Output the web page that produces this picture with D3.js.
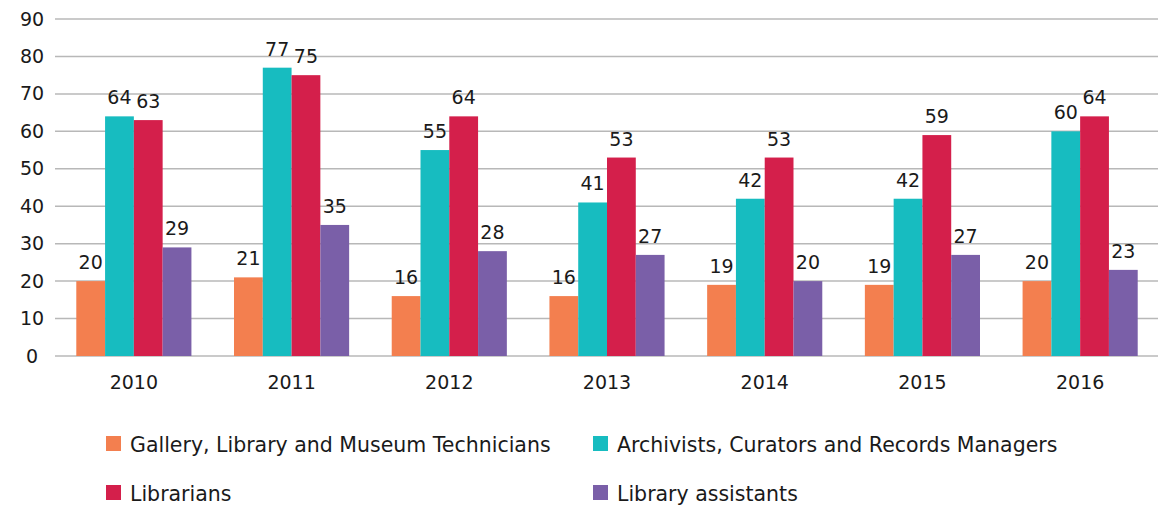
<!DOCTYPE html>
<html>
<head>
<meta charset="utf-8">
<script src="https://cdn.jsdelivr.net/npm/d3@7/dist/d3.min.js"></script>
<style>
  body { margin: 0; background: #fff; }
  svg text { font-family: "DejaVu Sans", "Open Sans", sans-serif; fill: #1a1a1a; }
</style>
</head>
<body>
<svg id="chart"></svg>
<script>
// chart data
var years = ["2010", "2011", "2012", "2013", "2014", "2015", "2016"];
var seriesNames = ["Gallery, Library and Museum Technicians", "Archivists, Curators and Records Managers", "Librarians", "Library assistants"];
var technicians = [20, 21, 16, 16, 19, 19, 20];
var archivists = [64, 77, 55, 41, 42, 42, 60];
var librarians = [63, 75, 64, 53, 53, 59, 64];
var assistants = [29, 35, 28, 27, 20, 27, 23];
var yTicks = [0, 10, 20, 30, 40, 50, 60, 70, 80, 90];
var colors = ["#f37f4f", "#17bcc0", "#d41f4b", "#7a5fa8"];

var allSeries = [technicians, archivists, librarians, assistants];

var width = 1158, height = 508;
var svg = d3.select("#chart").attr("width", width).attr("height", height);

// scales
var x = d3.scaleBand().domain(years).range([55, 1159]).paddingInner(0.27).paddingOuter(0.135);
var xSub = d3.scaleBand().domain(d3.range(seriesNames.length)).range([0, x.bandwidth()]);
var y = d3.scaleLinear().domain([0, 90]).range([356, 19]);

// gridlines
svg.append("g")
   .selectAll("line")
   .data(yTicks)
   .join("line")
   .attr("x1", 55)
   .attr("x2", 1158)
   .attr("y1", function(d) { return y(d); })
   .attr("y2", function(d) { return y(d); })
   .attr("stroke", "#b8b8b8")
   .attr("stroke-width", 1.5);

// y axis labels
var yAxis = svg.append("g")
   .attr("transform", "translate(32,0)")
   .call(d3.axisLeft(y).tickValues(yTicks).tickSize(0).tickPadding(0));
yAxis.select(".domain").remove();
yAxis.selectAll("text")
     .attr("text-anchor", "middle")
     .style("font-size", "19px")
     .attr("fill", "#1a1a1a");

// x axis labels
var xAxis = svg.append("g")
   .attr("transform", "translate(0,375)")
   .call(d3.axisBottom(x).tickSize(0).tickPadding(0));
xAxis.select(".domain").remove();
xAxis.selectAll("text")
     .style("font-size", "19px")
     .attr("fill", "#1a1a1a");

// bars and labels
var groups = svg.append("g")
   .selectAll("g")
   .data(years)
   .join("g")
   .attr("transform", function(d) { return "translate(" + x(d) + ",0)"; });

groups.selectAll("rect")
   .data(function(d, i) { return allSeries.map(function(s, k) { return { k: k, v: s[i] }; }); })
   .join("rect")
   .attr("x", function(d) { return xSub(d.k); })
   .attr("y", function(d) { return y(d.v); })
   .attr("width", xSub.bandwidth())
   .attr("height", function(d) { return y(0) - y(d.v); })
   .attr("fill", function(d) { return colors[d.k]; });

groups.selectAll("text")
   .data(function(d, i) { return allSeries.map(function(s, k) { return { k: k, v: s[i] }; }); })
   .join("text")
   .attr("x", function(d) { return xSub(d.k) + xSub.bandwidth() / 2; })
   .attr("y", function(d) { return y(d.v) - 12; })
   .attr("text-anchor", "middle")
   .style("font-size", "19px")
   .text(function(d) { return d.v; });

// legend
var legendPos = [[106, 444], [593, 444], [106, 493], [593, 493]];
var legend = svg.append("g")
   .selectAll("g")
   .data(seriesNames)
   .join("g")
   .attr("transform", function(d, i) { return "translate(" + legendPos[i][0] + "," + legendPos[i][1] + ")"; });

legend.append("rect")
   .attr("x", 0)
   .attr("y", -8)
   .attr("width", 15)
   .attr("height", 15)
   .attr("fill", function(d, i) { return colors[i]; });

legend.append("text")
   .attr("x", 24)
   .attr("y", 7.5)
   .style("font-size", "20.5px")
   .text(function(d) { return d; });
</script>
</body>
</html>
